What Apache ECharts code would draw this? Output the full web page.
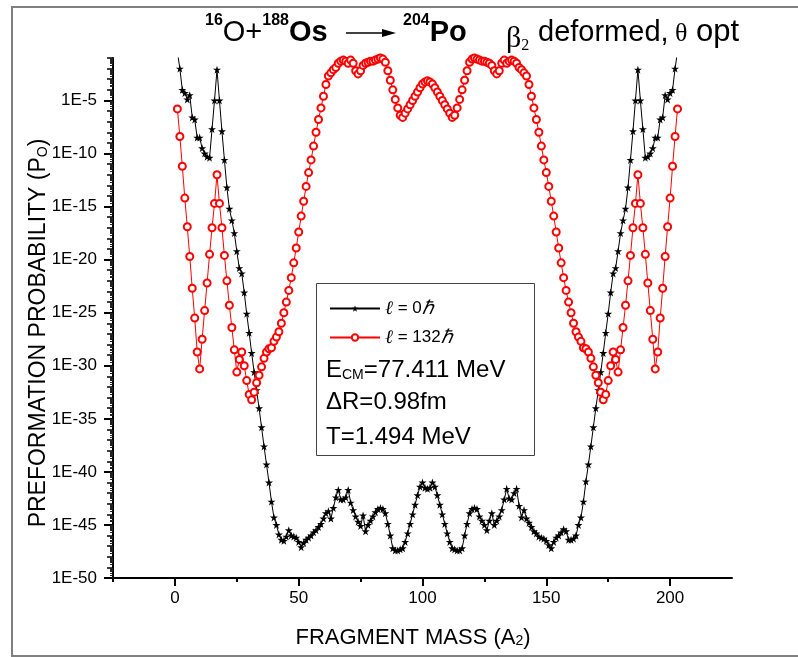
<!DOCTYPE html>
<html>
<head>
<meta charset="utf-8">
<script src="https://cdn.jsdelivr.net/npm/echarts@6/dist/echarts.min.js"></script>
<style>
  html, body { margin: 0; padding: 0; background: #fff; }
  #chart { width: 798px; height: 657px; }
</style>
</head>
<body>
<div id="chart"></div>
<script>
// Fragment mass numbers A2 (x axis)
const massNumbers = [
  1,2,3,4,5,6,7,8,9,10,11,12,13,14,15,16,17,18,19,20,
  21,22,23,24,25,26,27,28,29,30,31,32,33,34,35,36,37,38,39,40,
  41,42,43,44,45,46,47,48,49,50,51,52,53,54,55,56,57,58,59,60,
  61,62,63,64,65,66,67,68,69,70,71,72,73,74,75,76,77,78,79,80,
  81,82,83,84,85,86,87,88,89,90,91,92,93,94,95,96,97,98,99,100,
  101,102,103,104,105,106,107,108,109,110,111,112,113,114,115,116,117,118,119,120,
  121,122,123,124,125,126,127,128,129,130,131,132,133,134,135,136,137,138,139,140,
  141,142,143,144,145,146,147,148,149,150,151,152,153,154,155,156,157,158,159,160,
  161,162,163,164,165,166,167,168,169,170,171,172,173,174,175,176,177,178,179,180,
  181,182,183,184,185,186,187,188,189,190,191,192,193,194,195,196,197,198,199,200,
  201,202,203
];

// Preformation probability, stored as log10(P0), for l = 0 hbar
const log10P_l0 = [
  -0.4,-2.0,-4.0,-4.3,-4.9,-4.5,-6.6,-6.8,-8.5,-8.5,
  -9.5,-10.0,-10.3,-10.4,-7.7,-5.0,-2.1,-5.0,-7.9,-10.6,
  -13.2,-15.2,-16.3,-17.5,-19.2,-20.8,-21.3,-23.1,-25.1,-26.9,
  -28.8,-30.6,-32.3,-34.0,-35.8,-37.6,-39.3,-41.0,-42.8,-44.3,
  -45.0,-45.9,-46.4,-46.5,-46.1,-45.5,-46.0,-46.1,-46.2,-46.6,
  -47.1,-46.7,-46.4,-46.2,-46.0,-45.7,-45.5,-45.2,-44.9,-44.4,
  -43.9,-43.7,-44.4,-43.4,-42.4,-41.7,-42.6,-42.6,-42.4,-41.7,
  -42.9,-43.6,-44.2,-44.7,-45.1,-44.1,-45.6,-45.0,-44.6,-44.2,
  -43.8,-43.5,-43.4,-43.5,-43.9,-44.9,-46.0,-47.2,-47.4,-47.4,
  -47.3,-47.2,-46.6,-45.8,-44.9,-44.0,-43.1,-42.2,-41.4,-41.0,
  -41.5,-41.6,-41.5,-41.0,-41.4,-42.2,-43.1,-44.0,-44.9,-45.8,
  -46.6,-47.2,-47.3,-47.4,-47.4,-47.2,-46.0,-44.9,-43.9,-43.5,
  -43.4,-43.5,-44.2,-44.6,-45.0,-45.5,-44.6,-43.9,-45.0,-44.6,
  -44.2,-43.6,-42.6,-41.6,-42.5,-42.6,-42.0,-41.6,-43.2,-44.3,
  -43.6,-44.4,-44.8,-45.2,-45.6,-45.8,-46.1,-46.2,-46.3,-46.5,
  -46.9,-47.2,-46.6,-46.2,-46.0,-45.7,-45.4,-45.6,-46.4,-46.4,
  -46.3,-46.0,-45.0,-44.3,-42.8,-40.9,-39.3,-37.6,-35.8,-34.0,
  -32.3,-30.6,-28.8,-26.9,-25.1,-23.1,-21.3,-20.8,-19.2,-17.5,
  -16.3,-15.2,-13.2,-10.6,-7.9,-5.0,-2.1,-5.0,-7.7,-10.4,
  -10.3,-10.0,-9.5,-8.5,-8.5,-6.8,-6.6,-4.5,-4.9,-4.3,
  -4.0,-2.0,-0.4
];

// Preformation probability, stored as log10(P0), for l = 132 hbar
const log10P_l132 = [
  -5.8,-8.4,-11.2,-14.2,-16.9,-19.7,-22.7,-25.5,-28.7,-30.3,
  -27.5,-24.8,-22.2,-19.5,-17.0,-14.7,-12.0,-14.7,-17.0,-19.6,
  -22.0,-24.3,-26.4,-28.5,-30.6,-29.4,-28.7,-30.0,-31.4,-32.7,
  -33.2,-32.5,-31.6,-30.9,-30.1,-29.3,-28.7,-28.4,-28.3,-27.7,
  -27.3,-26.8,-26.0,-25.0,-24.0,-22.9,-21.7,-20.3,-18.9,-17.4,
  -15.9,-14.5,-13.1,-11.8,-10.6,-9.3,-8.0,-6.8,-5.7,-4.6,
  -3.5,-2.7,-2.4,-2.1,-1.9,-1.5,-1.3,-1.2,-1.3,-1.5,
  -1.2,-1.5,-2.2,-2.5,-2.2,-1.7,-1.5,-1.4,-1.3,-1.3,
  -1.2,-1.1,-1.0,-1.1,-1.4,-2.2,-3.1,-4.0,-4.9,-5.7,
  -6.4,-6.6,-6.2,-5.8,-5.4,-5.0,-4.6,-4.2,-3.8,-3.45,
  -3.25,-3.15,-3.25,-3.45,-3.8,-4.2,-4.6,-5.0,-5.4,-5.8,
  -6.2,-6.6,-6.4,-5.7,-4.9,-4.0,-3.1,-2.2,-1.4,-1.1,
  -1.0,-1.1,-1.2,-1.3,-1.3,-1.4,-1.5,-1.7,-2.2,-2.5,
  -2.2,-1.5,-1.2,-1.5,-1.3,-1.2,-1.3,-1.5,-1.9,-2.1,
  -2.4,-2.7,-3.5,-4.6,-5.7,-6.8,-8.0,-9.3,-10.6,-11.8,
  -13.1,-14.5,-15.9,-17.4,-18.9,-20.3,-21.7,-22.9,-24.0,-25.0,
  -26.0,-26.8,-27.3,-27.7,-28.3,-28.4,-28.7,-29.3,-30.1,-30.9,
  -31.6,-32.5,-33.2,-32.7,-31.4,-30.0,-28.7,-29.4,-30.6,-28.5,
  -26.4,-24.3,-22.0,-19.6,-17.0,-14.7,-12.0,-14.7,-17.0,-19.5,
  -22.2,-24.8,-27.5,-30.3,-28.7,-25.5,-22.7,-19.7,-16.9,-14.2,
  -11.2,-8.4,-5.8
];

const seriesNames = ['ℓ = 0ℏ', 'ℓ = 132ℏ'];
const xTickValues = [0, 50, 100, 150, 200];
const xMinorTickValues = [-25, 25, 75, 125, 175];
const yLabelExponents = [-50, -45, -40, -35, -30, -25, -20, -15, -10, -5];
const yAxisExponentRange = [-50, -1];
const xAxisRange = [-25, 225];

const FONT = '"Liberation Sans", Arial, Helvetica, sans-serif';
const SERIF = '"Liberation Serif", "Times New Roman", serif';
const STAR = 'path://M50,0 L61.2,34.5 L97.6,34.5 L68.2,55.9 L79.4,90.5 L50,69.1 L20.6,90.5 L31.8,55.9 L2.4,34.5 L38.8,34.5 Z';

// Points built from the arrays: [A2, P0]
const toPoints = (logs) => massNumbers.map((a, i) => [a, Math.pow(10, logs[i])]);

// Tick positions on the logarithmic axis
const yMin = Math.pow(10, yAxisExponentRange[0]);
const yMax = Math.pow(10, yAxisExponentRange[1]);
const yLabelValues = yLabelExponents.map(e => Math.pow(10, e));
const yDecadeValues = [];
const yInnerMinorValues = [];
for (let e = yAxisExponentRange[0]; e <= yAxisExponentRange[1]; e++) {
  yDecadeValues.push(Math.pow(10, e));
  if (e < yAxisExponentRange[1]) {
    for (let k = 2; k <= 9; k++) yInnerMinorValues.push(k * Math.pow(10, e));
  }
}

const chart = echarts.init(document.getElementById('chart'), null, { renderer: 'canvas' });

const baseY = {
  type: 'log', logBase: 10, min: yMin, max: yMax, position: 'left', offset: 0,
  splitLine: { show: false }, axisLabel: { show: false },
  axisLine: { show: false, onZero: false }, axisTick: { show: false }
};

const txt = (size, extra) => Object.assign({ fontSize: size, fontFamily: FONT, fontWeight: 'normal', fill: '#000' }, extra || {});

chart.setOption({
  animation: false,
  backgroundColor: '#fff',
  grid: { left: 113, right: 66, top: 58, bottom: 79, containLabel: false },
  legend: {
    orient: 'vertical', left: 324, top: 294,
    itemWidth: 50, itemHeight: 8, itemGap: 10,
    data: seriesNames,
    formatter: (name) => name === seriesNames[0] ? '{i|ℓ}{t| = 0}{i|ℏ}' : '{i|ℓ}{t| = 132}{i|ℏ}',
    textStyle: {
      color: '#000', fontFamily: FONT, fontSize: 17,
      rich: {
        t: { fontSize: 17, fontFamily: FONT, color: '#000' },
        i: { fontSize: 19, fontFamily: SERIF, fontStyle: 'italic', color: '#000' }
      }
    }
  },
  xAxis: [
    {
      type: 'value', min: xAxisRange[0], max: xAxisRange[1], position: 'bottom',
      splitLine: { show: false },
      axisLine: { show: true, onZero: false, lineStyle: { color: '#000', width: 2 } },
      axisTick: { show: true, length: 8, customValues: xTickValues, lineStyle: { color: '#000', width: 2 } },
      axisLabel: { show: true, customValues: xTickValues, margin: 12, fontSize: 17, fontFamily: FONT, color: '#000' }
    },
    {
      type: 'value', min: xAxisRange[0], max: xAxisRange[1], position: 'bottom', offset: 0,
      splitLine: { show: false }, axisLine: { show: false, onZero: false },
      axisTick: { show: true, length: 4, customValues: xMinorTickValues, lineStyle: { color: '#000', width: 2 } },
      axisLabel: { show: false }
    }
  ],
  yAxis: [
    Object.assign({}, baseY, {
      axisLine: { show: true, onZero: false, lineStyle: { color: '#000', width: 2 } },
      axisTick: { show: true, length: 6, customValues: yDecadeValues, lineStyle: { color: '#000', width: 1.5 } }
    }),
    Object.assign({}, baseY, {
      axisTick: { show: true, length: 9, customValues: yLabelValues, lineStyle: { color: '#000', width: 2 } },
      axisLabel: {
        show: true, customValues: yLabelValues, margin: 16, fontSize: 17, fontFamily: FONT, color: '#000',
        formatter: (v) => '1E' + Math.round(Math.log10(v))
      }
    }),
    Object.assign({}, baseY, {
      axisTick: { show: true, length: 3, customValues: yInnerMinorValues, lineStyle: { color: '#222', width: 1 } }
    })
  ],
  graphic: [
    // outer frame
    { type: 'rect', silent: true,
      shape: { x: 12, y: 7, width: 800, height: 649 },
      style: { fill: 'none', stroke: '#808080', lineWidth: 2 } },
    // reaction title pieces
    { type: 'text', silent: true, x: 205, y: 47,
      style: { text: '{sup|16}{n|O+}{sup|188}{b|Os}', verticalAlign: 'bottom',
        rich: {
          n: txt(29, { lineHeight: 34, verticalAlign: 'bottom' }),
          b: txt(29, { fontWeight: 'bold', lineHeight: 34, verticalAlign: 'bottom' }),
          sup: txt(16, { fontWeight: 'bold', lineHeight: 16, verticalAlign: 'top' })
        } } },
    { type: 'line', silent: true,
      shape: { x1: 346, y1: 33, x2: 384, y2: 33 },
      style: { stroke: '#000', lineWidth: 1.5 } },
    { type: 'polygon', silent: true,
      shape: { points: [[382, 29], [396, 33], [382, 37]] },
      style: { fill: '#000' } },
    { type: 'text', silent: true, x: 403, y: 47,
      style: { text: '{sup|204}{b|Po}', verticalAlign: 'bottom',
        rich: {
          b: txt(29, { fontWeight: 'bold', lineHeight: 34, verticalAlign: 'bottom' }),
          sup: txt(16, { fontWeight: 'bold', lineHeight: 16, verticalAlign: 'top' })
        } } },
    { type: 'text', silent: true, x: 506, y: 54,
      style: { text: '{g|β}{sub|2}', verticalAlign: 'bottom',
        rich: {
          g: txt(30, { fontFamily: SERIF, lineHeight: 36, verticalAlign: 'bottom' }),
          sub: txt(16, { fontFamily: SERIF, lineHeight: 15, verticalAlign: 'bottom' })
        } } },
    { type: 'text', silent: true, x: 538, y: 47,
      style: Object.assign(txt(29), { text: 'deformed,', verticalAlign: 'bottom' }) },
    { type: 'text', silent: true, x: 675, y: 47,
      style: Object.assign(txt(26, { fontFamily: SERIF }), { text: 'θ', verticalAlign: 'bottom' }) },
    { type: 'text', silent: true, x: 696, y: 48,
      style: Object.assign(txt(31), { text: 'opt', verticalAlign: 'bottom' }) },
    // axis titles
    { type: 'text', silent: true, x: 37, y: 333, rotation: Math.PI / 2,
      style: { text: '{a|PREFORMATION PROBABILITY (P}{s|O}{a|)}', align: 'center', verticalAlign: 'middle',
        rich: {
          a: txt(23, { verticalAlign: 'bottom', lineHeight: 26 }),
          s: txt(14, { verticalAlign: 'bottom', lineHeight: 14 })
        } } },
    { type: 'text', silent: true, x: 413, y: 636,
      style: { text: '{a|FRAGMENT MASS (A}{s|2}{a|)}', align: 'center', verticalAlign: 'middle',
        rich: {
          a: txt(22, { verticalAlign: 'bottom', lineHeight: 25 }),
          s: txt(14, { verticalAlign: 'bottom', lineHeight: 14 })
        } } },
    // inset box with run parameters
    { type: 'rect', silent: true,
      shape: { x: 316.5, y: 283.5, width: 218, height: 172 },
      style: { fill: 'none', stroke: '#444', lineWidth: 1 } },
    { type: 'text', silent: true, x: 326, y: 368,
      style: {
        text: '{a|E}{s|CM}{a|=77.411 MeV}', verticalAlign: 'middle',
        rich: {
          a: txt(24, { verticalAlign: 'bottom', lineHeight: 28 }),
          s: txt(14, { verticalAlign: 'bottom', lineHeight: 14 })
        }
      } },
    { type: 'text', silent: true, x: 326, y: 402,
      style: Object.assign(txt(24), { text: 'ΔR=0.98fm', verticalAlign: 'middle' }) },
    { type: 'text', silent: true, x: 326, y: 437,
      style: Object.assign(txt(24), { text: 'T=1.494 MeV', verticalAlign: 'middle' }) }
  ],
  series: [
    {
      name: seriesNames[0], type: 'line', xAxisIndex: 0, yAxisIndex: 0,
      data: toPoints(log10P_l0),
      symbol: STAR, symbolSize: 8,
      lineStyle: { color: '#000', width: 1 },
      itemStyle: { color: '#000', borderWidth: 0 },
      clip: true, z: 2
    },
    {
      name: seriesNames[1], type: 'line', xAxisIndex: 0, yAxisIndex: 0,
      data: toPoints(log10P_l132),
      symbol: 'emptyCircle', symbolSize: 7,
      lineStyle: { color: '#ff0000', width: 1 },
      itemStyle: { color: '#ff0000', borderColor: '#ff0000', borderWidth: 1 },
      clip: true, z: 3
    }
  ]
});
</script>
</body>
</html>
